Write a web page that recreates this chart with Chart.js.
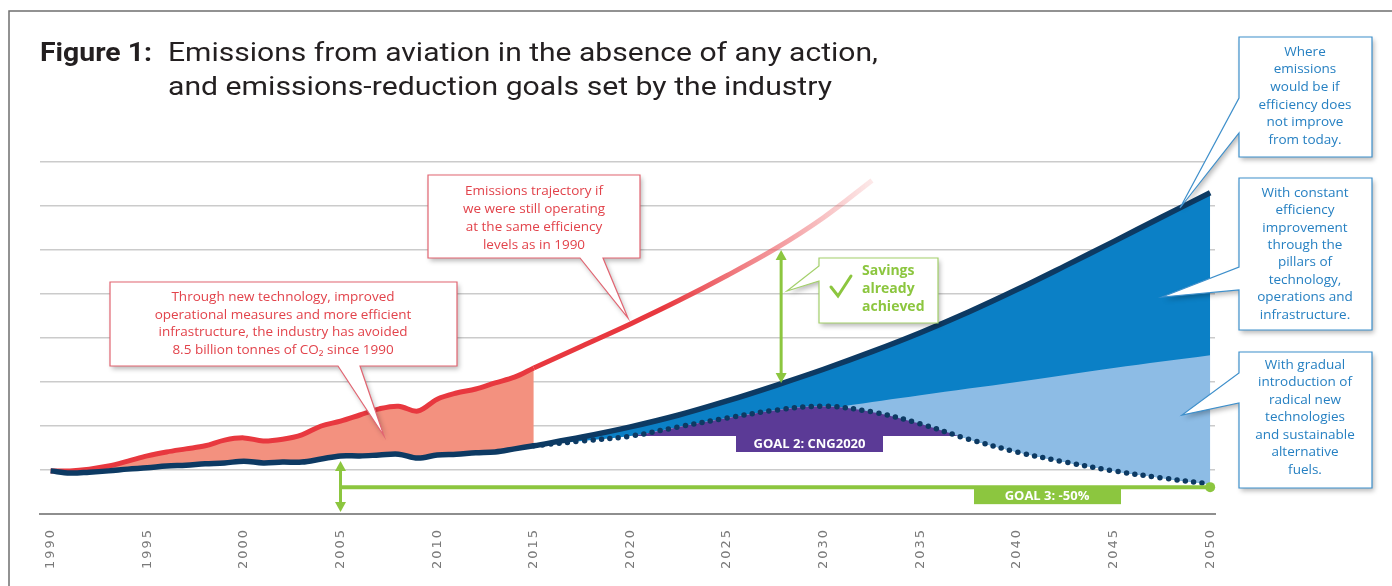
<!DOCTYPE html>
<html>
<head>
<meta charset="utf-8">
<title>Emissions from aviation</title>
<script src="https://cdn.jsdelivr.net/npm/chart.js@4"></script>
<style>
  html, body { margin: 0; padding: 0; background: #fff; }
  #wrap { position: relative; width: 1392px; height: 586px; }
</style>
</head>
<body>
<div id="wrap"><canvas id="emissionsChart"></canvas></div>
<script>
// values are in grid steps, 1990 level ~ 0 (the picture has no y labels)
const tickYears = [1990, 1995, 2000, 2005, 2010, 2015, 2020, 2025, 2030, 2035, 2040, 2045, 2050];

const histYears = [1990, 1991, 1992, 1993, 1994, 1995, 1996, 1997, 1998, 1999, 2000, 2001, 2002,
  2003, 2004, 2005, 2006, 2007, 2008, 2009, 2010, 2011, 2012, 2013, 2014, 2015];
const noActionHist = [-0.02, -0.02, 0.02, 0.09, 0.20, 0.32, 0.41, 0.48, 0.55, 0.68, 0.73, 0.66, 0.70,
  0.80, 1.00, 1.11, 1.25, 1.39, 1.45, 1.34, 1.61, 1.75, 1.84, 1.98, 2.11, 2.32];
const actualHist = [-0.02, -0.07, -0.05, -0.02, 0.02, 0.05, 0.09, 0.11, 0.14, 0.16, 0.20, 0.16, 0.18,
  0.18, 0.25, 0.32, 0.32, 0.34, 0.36, 0.27, 0.34, 0.36, 0.39, 0.41, 0.48, 0.55];

const noActionProjYears = [2015, 2017.5, 2020, 2022.5, 2025, 2027.5, 2030, 2032.5];
const noActionProj = [2.32, 2.82, 3.32, 3.85, 4.42, 5.03, 5.74, 6.58];

const projYears = [2015, 2017.5, 2020, 2022.5, 2025, 2027.5, 2030, 2032.5, 2035, 2037.5, 2040, 2042.5, 2045, 2047.5, 2050];
const noImprovement = [0.55, 0.75, 0.98, 1.25, 1.57, 1.92, 2.29, 2.69, 3.12, 3.59, 4.10, 4.64, 5.19, 5.75, 6.30];
const goalPath = [0.55, 0.66, 0.77, 0.98, 1.18, 1.36, 1.45, 1.32, 1.05, 0.70, 0.41, 0.18, -0.02, -0.18, -0.32];

const constImprovementYears = [2031, 2035, 2040, 2045, 2050];
const constImprovement = [1.45, 1.70, 2.00, 2.32, 2.61];

const cng2020Level = 0.77;
const goal3Level = -0.39;
const goal3Start = 2005;
const savingsYear = 2027.8;
const savingsRange = [5.0, 1.98];

const NAVY = '#0d3a63';
const RED = '#e8383f';

const toPoints = (xs, ys) => xs.map((x, i) => ({ x: x, y: ys[i] }));

function redFade(ctx) {
  const chart = ctx.chart;
  if (!chart.chartArea) return RED;
  const x = chart.scales.x;
  const g = chart.ctx.createLinearGradient(x.getPixelForValue(2015), 0, x.getPixelForValue(2034), 0);
  g.addColorStop(0, 'rgba(232,56,63,1)');
  g.addColorStop(0.35, 'rgba(232,56,63,1)');
  g.addColorStop(0.7, 'rgba(236,90,96,0.55)');
  g.addColorStop(1, 'rgba(240,120,120,0.02)');
  return g;
}

function fillFitted(ctx, text, x, y, width) {
  const w = ctx.measureText(text).width;
  ctx.save();
  ctx.translate(x, y);
  ctx.scale(width / w, 1);
  ctx.fillText(text, 0, 0);
  ctx.restore();
}

function drawCallout(ctx, outline, stroke) {
  ctx.save();
  ctx.beginPath();
  outline.forEach(([x, y], i) => (i ? ctx.lineTo(x, y) : ctx.moveTo(x, y)));
  ctx.closePath();
  ctx.shadowColor = 'rgba(0,0,0,0.28)';
  ctx.shadowBlur = 5;
  ctx.shadowOffsetX = 2;
  ctx.shadowOffsetY = 3;
  ctx.fillStyle = '#fff';
  ctx.fill();
  ctx.shadowColor = 'rgba(0,0,0,0)';
  ctx.strokeStyle = stroke;
  ctx.lineWidth = 1.2;
  ctx.stroke();
  ctx.restore();
}

function drawLines(ctx, lines, cx, y0, step, color, font) {
  ctx.save();
  ctx.fillStyle = color;
  ctx.font = font;
  ctx.textAlign = 'center';
  ctx.textBaseline = 'middle';
  lines.forEach((t, i) => ctx.fillText(t, cx, y0 + i * step));
  ctx.restore();
}

function arrowHead(ctx, x, y, dir) {
  ctx.beginPath();
  ctx.moveTo(x, y);
  ctx.lineTo(x - 5.5, y - dir * 10);
  ctx.lineTo(x + 5.5, y - dir * 10);
  ctx.closePath();
  ctx.fill();
}

function vArrow(ctx, x, yTop, yBottom, color) {
  ctx.save();
  ctx.strokeStyle = color;
  ctx.fillStyle = color;
  ctx.lineWidth = 3;
  ctx.beginPath();
  ctx.moveTo(x, yTop + 6);
  ctx.lineTo(x, yBottom - 6);
  ctx.stroke();
  arrowHead(ctx, x, yTop, -1);
  arrowHead(ctx, x, yBottom, 1);
  ctx.restore();
}

const annotations = {
  id: 'annotations',
  beforeDraw(chart) {
    chart.ctx.letterSpacing = '2px';
  },
  beforeDatasetsDraw(chart) {
    chart.ctx.letterSpacing = '0px';
  },
  afterDatasetsDraw(chart) {
    const ctx = chart.ctx;
    const x = chart.scales.x;
    const y = chart.scales.y;
    const GREEN = '#8cc63f';

    // goal 3 line, -50% in 2050
    const gx0 = x.getPixelForValue(goal3Start);
    const gx1 = x.getPixelForValue(2050);
    const gy = y.getPixelForValue(goal3Level);
    ctx.save();
    ctx.strokeStyle = GREEN;
    ctx.fillStyle = GREEN;
    ctx.lineWidth = 4;
    ctx.beginPath();
    ctx.moveTo(gx0, gy);
    ctx.lineTo(gx1, gy);
    ctx.stroke();
    ctx.beginPath();
    ctx.arc(gx1, gy, 5, 0, Math.PI * 2);
    ctx.fill();
    ctx.fillRect(974, gy, 147, 17);
    ctx.fillStyle = '#fff';
    ctx.font = 'bold 13px "Open Sans"';
    ctx.textAlign = 'center';
    ctx.textBaseline = 'middle';
    ctx.fillText('GOAL 3: -50%', 1047, gy + 9);
    ctx.restore();

    const ay = y.getPixelForValue(actualHist[histYears.indexOf(goal3Start)]);
    vArrow(ctx, gx0, ay + 5, chart.chartArea.bottom - 2, GREEN);

    // savings arrow
    const sx = x.getPixelForValue(savingsYear);
    vArrow(ctx, sx, y.getPixelForValue(savingsRange[0]), y.getPixelForValue(savingsRange[1]), GREEN);

    // goal 2 label
    ctx.save();
    ctx.fillStyle = '#5b3a96';
    ctx.fillRect(736, 435, 147, 17);
    ctx.fillStyle = '#fff';
    ctx.font = 'bold 13px "Open Sans"';
    ctx.textAlign = 'center';
    ctx.textBaseline = 'middle';
    ctx.fillText('GOAL 2: CNG2020', 809.5, 444);
    ctx.restore();
  },
  afterDraw(chart) {
    const ctx = chart.ctx;

    // frame
    ctx.save();
    ctx.strokeStyle = '#6f6f6f';
    ctx.lineWidth = 1.5;
    ctx.beginPath();
    ctx.moveTo(9, 586);
    ctx.lineTo(9, 11);
    ctx.lineTo(1392, 11);
    ctx.stroke();
    ctx.restore();

    // title
    ctx.save();
    ctx.fillStyle = '#231f20';
    ctx.textBaseline = 'alphabetic';
    ctx.font = 'bold 25px Roboto';
    fillFitted(ctx, 'Figure 1:', 40, 61, 112);
    ctx.font = '25px Roboto';
    fillFitted(ctx, 'Emissions from aviation in the absence of any action,', 168, 61, 710);
    fillFitted(ctx, 'and emissions-reduction goals set by the industry', 168, 95, 664);
    ctx.restore();

    // red callouts
    const redStroke = '#e26471';
    const redText = '#e2434b';
    const font = '13.5px "Open Sans"';
    drawCallout(ctx, [[110, 282], [457, 282], [457, 366], [360, 366], [384, 436], [338, 366], [110, 366]], redStroke);
    drawLines(ctx, ['Through new technology, improved', 'operational measures and more efficient',
      'infrastructure, the industry has avoided', '8.5 billion tonnes of CO\u2082 since 1990'],
      283, 297, 17.8, redText, font);
    drawCallout(ctx, [[428, 175], [640, 175], [640, 258], [603, 258], [628, 318], [580, 258], [428, 258]], redStroke);
    drawLines(ctx, ['Emissions trajectory if', 'we were still operating', 'at the same efficiency', 'levels as in 1990'],
      534, 191, 18, redText, font);

    // savings callout
    const GREEN = '#8cc63f';
    drawCallout(ctx, [[819, 258], [938, 258], [938, 323], [819, 323], [819, 281], [787, 291], [819, 266]], '#a3d06a');
    ctx.save();
    ctx.strokeStyle = GREEN;
    ctx.lineWidth = 3;
    ctx.lineCap = 'round';
    ctx.beginPath();
    ctx.moveTo(831, 287);
    ctx.lineTo(838, 296);
    ctx.lineTo(851, 276);
    ctx.stroke();
    ctx.fillStyle = GREEN;
    ctx.font = 'bold 14px "Open Sans"';
    ctx.textBaseline = 'middle';
    ['Savings', 'already', 'achieved'].forEach((t, i) => ctx.fillText(t, 862, 271 + i * 18));
    ctx.restore();

    // blue callouts
    const blueStroke = '#3d8fcb';
    const blueText = '#2680c2';
    drawCallout(ctx, [[1239, 37], [1372, 37], [1372, 157], [1239, 157], [1239, 133], [1180, 208], [1239, 98]], blueStroke);
    drawLines(ctx, ['Where', 'emissions', 'would be if', 'efficiency does', 'not improve', 'from today.'],
      1305, 52, 17.6, blueText, font);
    drawCallout(ctx, [[1239, 178], [1372, 178], [1372, 330], [1239, 330], [1239, 290], [1162, 297], [1239, 267]], blueStroke);
    drawLines(ctx, ['With constant', 'efficiency', 'improvement', 'through the', 'pillars of', 'technology,',
      'operations and', 'infrastructure.'], 1305, 193, 17.4, blueText, font);
    drawCallout(ctx, [[1239, 352], [1372, 352], [1372, 488], [1239, 488], [1239, 403], [1182, 415], [1239, 373]], blueStroke);
    drawLines(ctx, ['With gradual', 'introduction of', 'radical new', 'technologies', 'and sustainable',
      'alternative', 'fuels.'], 1305, 365, 17.5, blueText, font);
  }
};

const ctx = document.getElementById('emissionsChart').getContext('2d');

new Chart(ctx, {
  type: 'line',
  data: {
    datasets: [
      { // 0
        label: 'Actual emissions',
        data: toPoints(histYears, actualHist),
        borderColor: NAVY, borderWidth: 5.5, fill: false, order: 1,
      },
      { // 1
        label: 'No efficiency improvement from today',
        data: toPoints(projYears, noImprovement),
        borderColor: NAVY, borderWidth: 5.5, fill: false, order: 2,
      },
      { // 2
        label: 'Same efficiency as 1990 (projected)',
        data: toPoints(noActionProjYears, noActionProj),
        borderColor: redFade, borderWidth: 5, fill: false, order: 3,
      },
      { // 3
        label: 'Same efficiency as 1990',
        data: toPoints(histYears, noActionHist),
        borderColor: RED, borderWidth: 5, backgroundColor: '#f3917f',
        fill: { target: 0 }, order: 4,
      },
      { // 4
        label: 'Goal pathway',
        data: toPoints(projYears, goalPath),
        borderColor: NAVY, borderWidth: 5.5, borderDash: [0, 8.5], borderCapStyle: 'round',
        fill: { target: { value: cng2020Level }, above: '#5b3a96', below: 'rgba(0,0,0,0)' },
        order: 5,
      },
      { // 5
        label: 'Radical new technologies and sustainable fuels',
        data: toPoints(constImprovementYears, constImprovement),
        borderWidth: 0, borderColor: 'rgba(0,0,0,0)', backgroundColor: '#8dbce5',
        fill: { target: 4 }, order: 6,
      },
      { // 6
        label: 'Constant efficiency improvement',
        data: toPoints(projYears, noImprovement),
        borderWidth: 0, borderColor: 'rgba(0,0,0,0)', backgroundColor: '#0b80c6',
        fill: { target: 4 }, order: 7,
      },
    ],
  },
  options: {
    responsive: true,
    maintainAspectRatio: false,
    animation: false,
    layout: { padding: { top: 162, left: 40, right: 177, bottom: 0 } },
    elements: {
      point: { radius: 0, hoverRadius: 0 },
      line: { tension: 0.35, borderJoinStyle: 'round' },
    },
    plugins: {
      legend: { display: false },
      tooltip: { enabled: false },
      filler: { drawTime: 'beforeDatasetsDraw' },
    },
    scales: {
      x: {
        type: 'linear',
        min: 1989.45,
        max: 2050.25,
        afterBuildTicks: (scale) => { scale.ticks = tickYears.map((v) => ({ value: v })); },
        afterFit: (scale) => { scale.height = 72; },
        grid: { display: false, drawTicks: false },
        border: { display: true, color: '#8e8e8e', width: 2 },
        ticks: {
          autoSkip: false,
          minRotation: 90,
          maxRotation: 90,
          padding: 14,
          color: '#7a7a7a',
          font: { family: 'DejaVu Sans', size: 13 },
          callback: (v) => String(v),
        },
      },
      y: {
        min: -1,
        max: 7,
        afterFit: (scale) => { scale.width = 0; },
        ticks: { display: false, stepSize: 1 },
        border: { display: false },
        grid: {
          drawTicks: false,
          lineWidth: 1.5,
          color: (c) => (c.tick && c.tick.value === -1 ? 'rgba(0,0,0,0)' : '#cbcbcb'),
        },
      },
    },
  },
  plugins: [annotations],
});
</script>
</body>
</html>
